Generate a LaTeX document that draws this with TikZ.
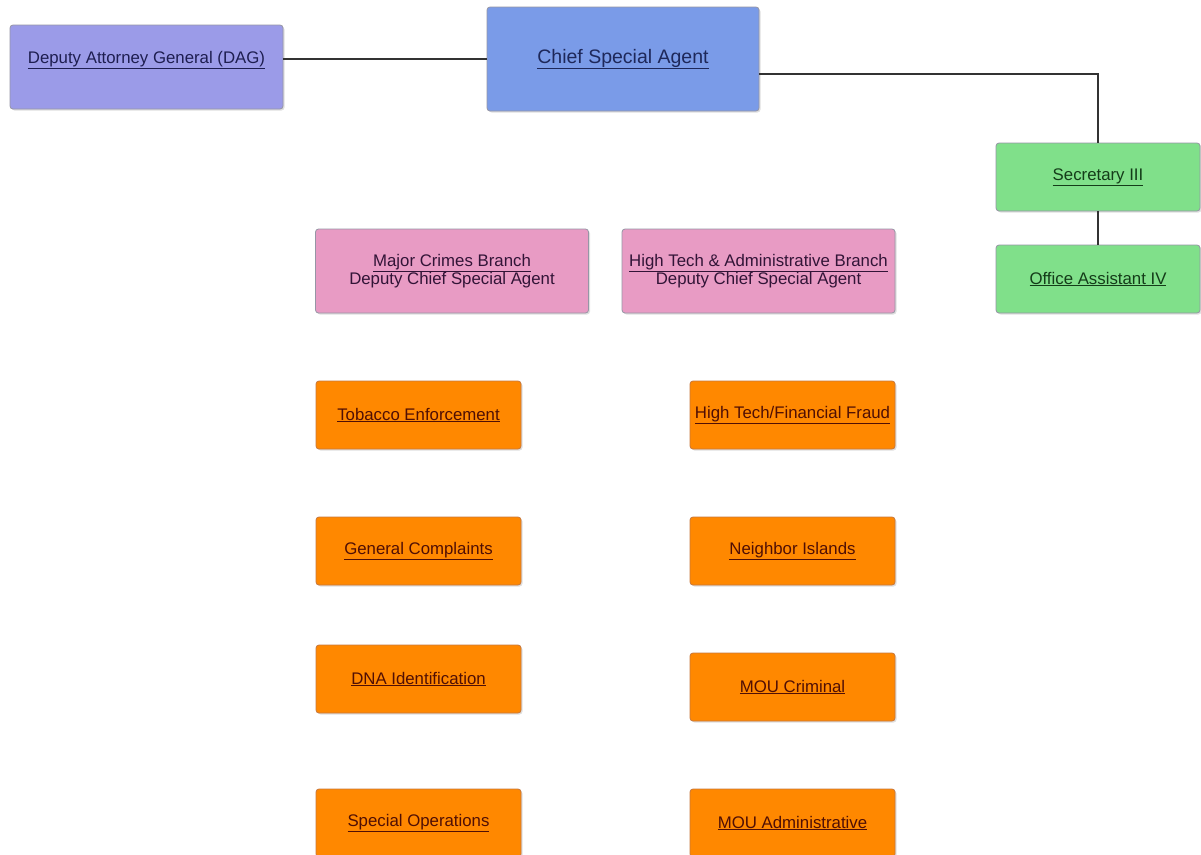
\documentclass[tikz,border=0pt]{standalone}
\usepackage{fontspec}
\setmainfont{Liberation Sans}
\usetikzlibrary{shadows}
\definecolor{dagfill}{RGB}{155,155,232}
\definecolor{chieffill}{RGB}{122,155,232}
\definecolor{pinkfill}{RGB}{232,155,196}
\definecolor{greenfill}{RGB}{128,224,138}
\definecolor{orangefill}{RGB}{255,136,0}
\definecolor{boxborder}{RGB}{150,150,165}
\definecolor{orangeborder}{RGB}{200,120,60}
\definecolor{dagtext}{RGB}{30,30,80}
\definecolor{chieftext}{RGB}{30,40,90}
\definecolor{pinktext}{RGB}{50,20,55}
\definecolor{greentext}{RGB}{20,60,25}
\definecolor{orangetext}{RGB}{80,15,5}
\definecolor{linecol}{RGB}{50,50,50}
\begin{document}
\begin{tikzpicture}[x=1pt,y=-1pt,
  orgbox/.style={rectangle, rounded corners=3pt, draw=boxborder, line width=0.8pt,
    inner sep=0pt, align=center,
    drop shadow={shadow xshift=1.5pt, shadow yshift=-1.5pt, opacity=0.25},
    font=\fontsize{16.8}{16}\selectfont},
  dagbox/.style={orgbox, fill=dagfill, minimum width=273pt, minimum height=84pt},
  chiefbox/.style={orgbox, fill=chieffill, minimum width=272pt, minimum height=104pt,
    text=chieftext, font=\fontsize{19.5}{20}\selectfont},
  greenbox/.style={orgbox, fill=greenfill, minimum width=204pt, minimum height=68pt, text=greentext},
  pinkbox/.style={orgbox, fill=pinkfill, minimum width=273pt, minimum height=84pt, text=pinktext},
  orangebox/.style={orgbox, fill=orangefill, draw=orangeborder, minimum width=205pt, minimum height=68pt, text=orangetext},
  plain/.style={inner sep=0pt, font=\fontsize{16.8}{16}\selectfont, text=dagtext},
  conn/.style={draw=linecol, line width=1.6pt}
]
\useasboundingbox (0,0) rectangle (1201,854);
\clip (0,0) rectangle (1201,854);
\fill[white] (0,0) rectangle (1201,854);

% top row
\node[dagbox] (dag) at (146.5,67) {};
\node[plain] (dagtxt) at (146.5,60) {\underline{Deputy Attorney General (DAG)}};
\node[chiefbox] (chief) at (623,59) {\underline{Chief Special Agent}};

% secretaries
\node[greenbox] (sec) at (1098,177) {\underline{Secretary III}};
\node[greenbox] (oa) at (1098,279) {\underline{Office Assistant IV}};

% branches
\node[pinkbox] (major) at (452,271) {\underline{Major Crimes Branch}\\Deputy Chief Special Agent};
\node[pinkbox] (hightech) at (758.5,271) {\underline{High Tech \& Administrative Branch}\\Deputy Chief Special Agent};

% units
\node[orangebox] (tobacco) at (418.5,415) {\underline{Tobacco Enforcement}};
\node[orangebox] (htff) at (792.5,415) {\underline{High Tech/Financial Fraud}};
\node[orangebox] (genc) at (418.5,551) {\underline{General Complaints}};
\node[orangebox] (neighbor) at (792.5,551) {\underline{Neighbor Islands}};
\node[orangebox] (dna) at (418.5,679) {\underline{DNA Identification}};
\node[orangebox] (moucrim) at (792.5,687) {\underline{MOU Criminal}};
\node[orangebox] (specops) at (418.5,823) {\underline{Special Operations}};
\node[orangebox] (mouadm) at (792.5,823) {\underline{MOU Administrative}};

% connectors
\draw[conn] (chief.west) -- (chief.west -| dag.east);
\coordinate (chiefout) at ([yshift=-15pt]chief.east);
\draw[conn] (chiefout) -| (sec.north);
\draw[conn] (sec.south) -- (oa.north);
\end{tikzpicture}
\end{document}
